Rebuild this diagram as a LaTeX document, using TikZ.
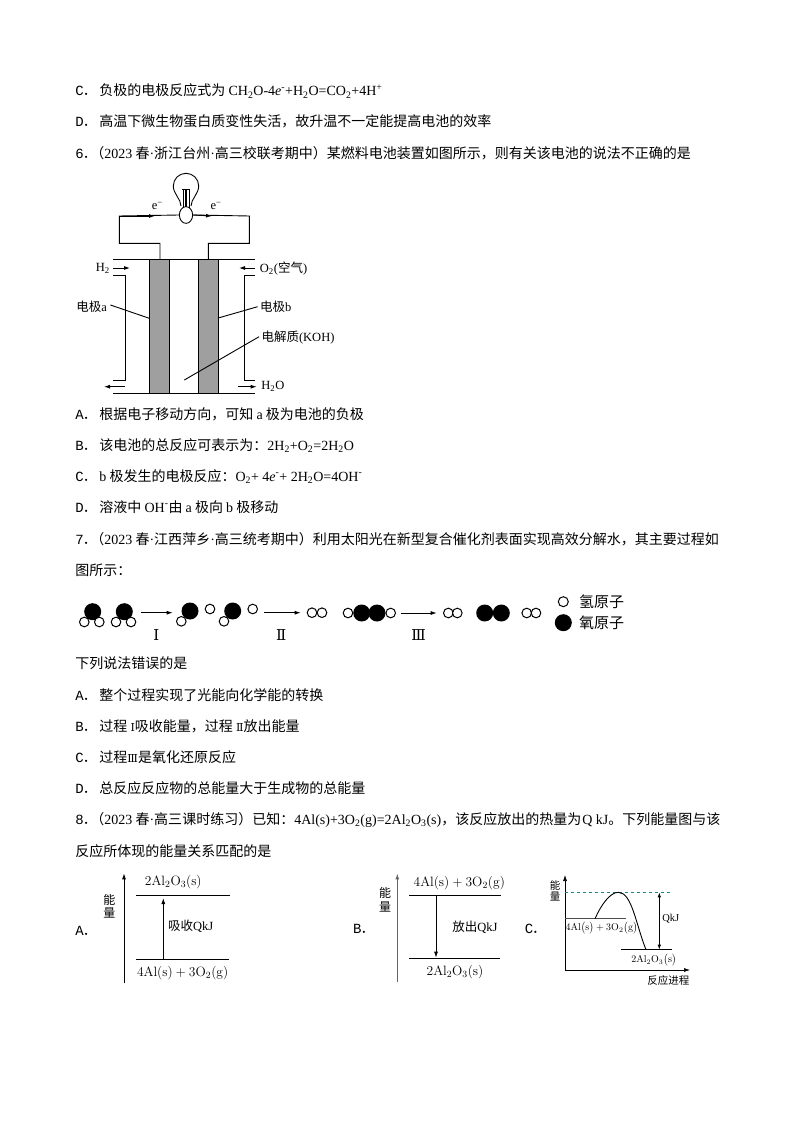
\documentclass[tikz,border=0pt]{standalone}
\usepackage{fix-cm}
\usepackage[no-math]{fontspec}
\setmainfont{Noto Sans CJK SC}
\newfontfamily\latfont{Liberation Serif}
\newfontfamily\monofont{Liberation Mono}
\newfontfamily\romfont{DejaVu Serif}
\usetikzlibrary{arrows.meta, calc, shapes.geometric}
\newcommand{\lat}[1]{{\latfont #1}}
\newcommand{\dn}[1]{\textsubscript{#1}}
\newcommand{\up}[1]{\textsuperscript{#1}}
\newcommand{\dotsep}{\lat{·}}
\newcommand{\opt}[1]{\makebox[24pt][l]{{\monofont #1}\hspace{-1pt}．}}
\newcommand{\qno}[1]{\makebox[15pt][l]{{\monofont #1}\hspace{-1pt}．}}
\newcommand{\rom}[1]{{\romfont\fontsize{11}{12}\selectfont #1}}
\newcommand{\alox}{$\mathrm{2Al_2O_3\bigl(s\bigr)}$}
\newcommand{\alreac}{$\mathrm{4Al\bigl(s\bigr)+3O_2\bigl(g\bigr)}$}
\tikzset{
  textline/.style = {anchor=base west, inner sep=0pt, font=\fontsize{14}{16}\selectfont},
  label/.style = {inner sep=0pt, font=\fontsize{12.5}{14}\selectfont},
  chem/.style = {inner sep=0pt, font=\fontsize{13.5}{15}\selectfont},
  small/.style = {inner sep=0pt, align=center, font=\fontsize{10.5}{11.5}\selectfont},
  tiny chem/.style = {inner sep=0pt, font=\fontsize{10}{11}\selectfont},
  process/.style = {inner sep=0pt, font=\romfont\fontsize{15}{17}\selectfont},
  hatom/.style = {circle, draw, fill=white, line width=1pt, minimum size=9.6pt, inner sep=0pt},
  oatom/.style = {circle, fill=black, minimum size=17pt, inner sep=0pt},
  tip/.style = {-{Latex[length=6pt, width=4pt]}},
  electrode/.style = {draw, fill=gray!75, line width=0.7pt}
}
\begin{document}
\begin{tikzpicture}[x=1pt, y=-1pt, line width=0.9pt]
\useasboundingbox (0,0) rectangle (794,1123);
\fill[white] (0,0) rectangle (794,1123);
\node[textline] (lineC) at (75,96) {\opt{C}负极的电极反应式为 \lat{CH\dn{2}O-4\textit{e}\up{-}+H\dn{2}O=CO\dn{2}+4H\up{+}}};
\node[textline] (lineD) at (75,127) {\opt{D}高温下微生物蛋白质变性失活，故升温不一定能提高电池的效率};
\node[textline] (q6) at (75,159) {\qno{6}（\lat{2023} 春\dotsep 浙江台州\dotsep 高三校联考期中）某燃料电池装置如图所示，则有关该电池的说法不正确的是};
\node[textline] (q6A) at (75,419) {\opt{A}根据电子移动方向，可知 \lat{a} 极为电池的负极};
\node[textline] (q6B) at (75,450) {\opt{B}该电池的总反应可表示为：\lat{2H\dn{2}+O\dn{2}=2H\dn{2}O}};
\node[textline] (q6C) at (75,481) {\opt{C}\lat{b} 极发生的电极反应：\lat{O\dn{2}+ 4\textit{e}\up{-}+ 2H\dn{2}O=4OH\up{-}}};
\node[textline] (q6D) at (75,512) {\opt{D}溶液中 \lat{OH\up{-}}由 \lat{a} 极向 \lat{b} 极移动};
\node[textline] (q7) at (75,544) {\qno{7}（\lat{2023} 春\dotsep 江西萍乡\dotsep 高三统考期中）利用太阳光在新型复合催化剂表面实现高效分解水，其主要过程如};
\node[textline] (q7b) at (75,575) {图所示：};
\node[textline] (q7c) at (75,668) {下列说法错误的是};
\node[textline] (q7A) at (75,700) {\opt{A}整个过程实现了光能向化学能的转换};
\node[textline] (q7B) at (75,731) {\opt{B}过程 \rom{Ⅰ}吸收能量，过程 \rom{Ⅱ}放出能量};
\node[textline] (q7C) at (75,762) {\opt{C}过程\rom{Ⅲ}是氧化还原反应};
\node[textline] (q7D) at (75,793) {\opt{D}总反应反应物的总能量大于生成物的总能量};
\node[textline] (q8) at (75,824) {\qno{8}（\lat{2023} 春\dotsep 高三课时练习）已知：\lat{4Al(s)+3O\dn{2}(g)=2Al\dn{2}O\dn{3}(s)}，该反应放出的热量为\hspace{1pt}\lat{Q kJ}。下列能量图与该};
\node[textline] (q8b) at (75,856) {反应所体现的能量关系匹配的是};

\coordinate (wireL) at (119.3,216);
\coordinate (wireR) at (249.3,216);
\coordinate (tipL) at (155,216);
\coordinate (tipR) at (212,216);
\draw[fill=white] (181,206) .. controls (181,199) and (173.3,194) .. (173.3,186) .. controls (173.3,179) and (179,173.3) .. (186,173.3) .. controls (193,173.3) and (198.7,179) .. (198.7,186) .. controls (198.7,194) and (191,199) .. (191,206);
\draw (182,189.3) -- (190,189.3) (183,189.3) -- (183,208) (189,189.3) -- (189,208) (185.3,190) -- (185.3,207) (186.8,190) -- (186.8,207);
\node[ellipse, draw, fill=white, minimum width=13.3pt, minimum height=16.7pt, inner sep=0pt] (bulbBase) at (186,215) {};
\draw (bulbBase.west) -- (wireL) |- (160,243.3) -- (160,259.3);
\draw (bulbBase.east) -- (wireR) |- (208.3,243.3) -- (208.3,259.3);
\draw[tip] (wireL) -- (tipL);
\draw[tip] (bulbBase.east) -- (tipR);
\node[label] (eL) at (157.3,206) {\lat{e\up{−}}};
\node[label] (eR) at (216,206) {\lat{e\up{−}}};

\draw[electrode] (149.3,259.3) rectangle (169.3,393.3);
\draw[electrode] (198.7,259.3) rectangle (218.3,393.3);
\draw (113.3,259.3) -- (255,259.3);
\draw (113.3,393.3) -- (255,393.3);
\coordinate (inL) at (113.3,268);
\coordinate (inLtip) at (130,268);
\coordinate (inR) at (255,268);
\coordinate (inRtip) at (239,268);
\coordinate (outL) at (125,386.7);
\coordinate (outLtip) at (104,386.7);
\coordinate (outR) at (237.7,386.7);
\coordinate (outRtip) at (256.7,386.7);
\draw[tip] (inL) -- (inLtip);
\draw[tip] (inR) -- (inRtip);
\draw[tip] (outL) -- (outLtip);
\draw[tip] (outR) -- (outRtip);
\draw (113.3,275) -- (125,275) -- (125,380) -- (113.3,380);
\draw (255,275) -- (244.3,275) -- (244.3,380) -- (255,380);
\node[label] (h2In) at (102.7,268.3) {\lat{H\dn{2}}};
\node[label, anchor=west] (o2In) at (259.5,268.3) {\lat{O\dn{2}(}空气\lat{)}};
\node[label, anchor=west] (h2oOut) at (261,386.7) {\lat{H\dn{2}O}};
\node[label] (elecA) at (91.7,307) {电极\lat{a}};
\node[label] (elecB) at (275.7,306.7) {电极\lat{b}};
\node[label] (elyte) at (298,337.7) {电解质\lat{(KOH)}};
\draw (elecA.east) ++(3,-2) -- (149.3,318.3);
\draw (elecB.west) ++(-2,0) -- (219.3,317.7);
\draw (elyte.west) ++(-2,-1) -- (184.3,380);

\node[oatom] (o1) at (92.7,611.7) {};
\node[hatom] (h1a) at (84.3,622) {};
\node[hatom] (h1b) at (99.3,622) {};
\node[oatom] (o2) at (124.3,611.7) {};
\node[hatom] (h2a) at (116,622) {};
\node[hatom] (h2b) at (131,622) {};
\coordinate (a1s) at (141,612.7);
\coordinate (a1e) at (172.7,612.7);
\draw[tip] (a1s) -- (a1e);
\node[process] (romanI) at (156.3,635) {Ⅰ};
\node[oatom] (o3) at (190,611) {};
\node[hatom] (h3a) at (181.3,621.3) {};
\node[hatom] (h3b) at (210,609) {};
\node[oatom] (o4) at (232.7,611) {};
\node[hatom] (h4a) at (224,621.3) {};
\node[hatom] (h4b) at (252.7,609) {};
\coordinate (a2s) at (264,612.7);
\coordinate (a2e) at (300.7,612.7);
\draw[tip] (a2s) -- (a2e);
\node[process] (romanII) at (281.3,635) {Ⅱ};
\node[hatom] (h5a) at (312,612.7) {};
\node[hatom] (h5b) at (322,612.7) {};
\node[oatom] (o6a) at (361.7,613) {};
\node[oatom] (o6b) at (377,613) {};
\node[hatom] (h6a) at (348,613) {};
\node[hatom] (h6b) at (390.7,613) {};
\coordinate (a3s) at (401,613);
\coordinate (a3e) at (436.7,613);
\draw[tip] (a3s) -- (a3e);
\node[process] (romanIII) at (418.7,635) {Ⅲ};
\node[hatom] (h7a) at (448.3,613) {};
\node[hatom] (h7b) at (457.3,613) {};
\node[oatom] (o8a) at (484.7,613) {};
\node[oatom] (o8b) at (501.3,613) {};
\node[hatom] (h9a) at (526.7,613) {};
\node[hatom] (h9b) at (536,613) {};
\node[hatom, minimum size=10pt] (legH) at (563.3,601.7) {};
\node[oatom, minimum size=17pt] (legO) at (563.3,622.7) {};
\node[label, font=\fontsize{15}{17}\selectfont] (legHt) at (601.7,601.7) {氢原子};
\node[label, font=\fontsize{15}{17}\selectfont] (legOt) at (601.7,623) {氧原子};

\node[textline] (optA) at (75,935) {\opt{A}};
\coordinate (axA0) at (124,983.3);
\coordinate (axA1) at (124,873.3);
\draw[tip] (axA0) -- (axA1);
\node[small, font=\fontsize{12}{13.5}\selectfont] (enA) at (109.3,906.5) {能\\量};
\coordinate (aTopL) at (136,895.3);
\coordinate (aTopR) at (230,895.3);
\coordinate (aBotL) at (136,959.3);
\coordinate (aBotR) at (229,959.3);
\coordinate (aUp0) at (163.3,959.3);
\coordinate (aUp1) at (163.3,898);
\draw (aTopL) -- (aTopR);
\draw (aBotL) -- (aBotR);
\draw[tip] (aUp0) -- (aUp1);
\node[chem] (aTop) at (173.3,881.7) {\alox};
\node[chem] (aBot) at (182.7,973.3) {\alreac};
\node[label] (aQ) at (190.7,926.7) {吸收\lat{QkJ}};

\node[textline] (optB) at (352.7,933) {\opt{B}};
\coordinate (axB0) at (397.3,982.3);
\coordinate (axB1) at (397.3,873.3);
\draw[tip, black!60, line width=1.2pt] (axB0) -- (axB1);
\node[small, font=\fontsize{12}{13.5}\selectfont] (enB) at (385,900) {能\\量};
\coordinate (bTopL) at (409,895.3);
\coordinate (bTopR) at (501,895.3);
\coordinate (bBotL) at (409,958.3);
\coordinate (bBotR) at (500,958.3);
\coordinate (bDn0) at (436,895.3);
\coordinate (bDn1) at (436,957.7);
\draw (bTopL) -- (bTopR);
\draw (bBotL) -- (bBotR);
\draw[tip] (bDn0) -- (bDn1);
\node[chem] (bTop) at (459.3,883.3) {\alreac};
\node[chem] (bBot) at (455,971.7) {\alox};
\node[label] (bQ) at (475,927.7) {放出\lat{QkJ}};

\node[textline] (optC) at (524.3,933) {\opt{C}};
\coordinate (axO) at (565,970);
\coordinate (axY) at (565,875);
\coordinate (axX) at (690,970);
\draw[tip, line width=0.6pt] (axO) -- (axY);
\draw[tip, line width=0.6pt] (axO) -- (axX);
\node[small] (enC) at (555,891) {能\\量};
\draw[dashed, teal!70!gray, line width=0.6pt] (565,892.3) -- (670,892.3);
\draw[black!70] (565,918.7) -- (626,918.7);
\draw (621,949.7) -- (672.3,949.7);
\draw (595,918.7) .. controls (601,905) and (610,892.3) .. (618.3,892.3) .. controls (632,892.3) and (636,925) .. (646,949.7);
\draw[{Latex[length=5pt, width=3.5pt]}-{Latex[length=5pt, width=3.5pt]}] (659.3,892.3) -- (659.3,949.7);
\node[small] (cQ) at (670.7,918.3) {\lat{QkJ}};
\node[tiny chem] (cTop) at (601.7,928.3) {\alreac};
\node[tiny chem] (cBot) at (654,960) {\alox};
\node[small] (cAxis) at (668.3,980) {反应进程};
\end{tikzpicture}
\end{document}
